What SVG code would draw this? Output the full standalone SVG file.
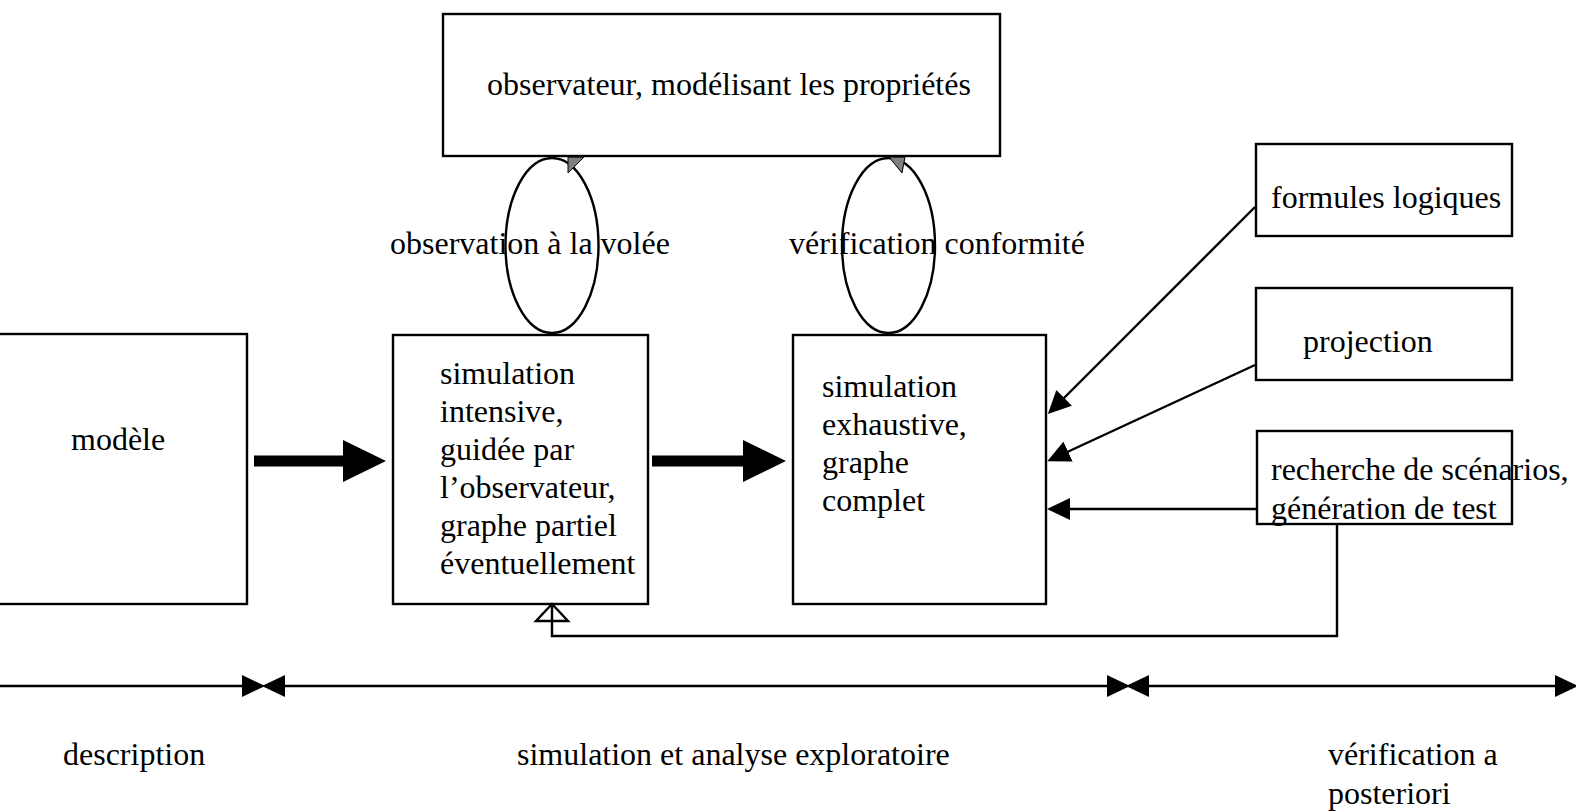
<svg xmlns="http://www.w3.org/2000/svg" width="1576" height="812" viewBox="0 0 1576 812">
  <style>
    .box { fill: #ffffff; stroke: #000000; stroke-width: 2.4; }
    .loop { fill: none; stroke: #000000; stroke-width: 2.4; }
    .tip { fill: #808080; stroke: #000000; stroke-width: 1; }
    .wire { fill: none; stroke: #000000; stroke-width: 2.4; }
    .bold { fill: #000000; stroke: none; }
    text { font-family: "Liberation Serif", "Times New Roman", serif; font-size: 32px; fill: #000000; }
  </style>
  <defs>
    <marker id="head" viewBox="0 0 23 22" refX="20" refY="11" markerWidth="23" markerHeight="22" markerUnits="userSpaceOnUse" orient="auto-start-reverse">
      <path d="M0,0 L23,11 L0,22 Z" fill="#000000"/>
    </marker>
  </defs>
  <rect width="1576" height="812" fill="#ffffff"/>

  <!-- loops between the simulation boxes and the observer -->
  <g id="loops">
    <ellipse class="loop" cx="552" cy="245.5" rx="46.5" ry="87.5"/>
    <polygon class="tip" points="568,157 584,157 568,173"/>
    <ellipse class="loop" cx="888.5" cy="245.5" rx="46.5" ry="87.5"/>
    <polygon class="tip" points="889,157 905,157 902,173"/>
    <text x="390" y="254">observation à la volée</text>
    <text x="789" y="254">vérification conformité</text>
  </g>

  <g id="n-observer">
    <rect class="box" x="443" y="14" width="557" height="142"/>
    <text x="487" y="95">observateur, modélisant les propriétés</text>
  </g>

  <g id="n-model">
    <rect class="box" x="-10" y="334" width="257" height="270"/>
    <text x="71" y="450">modèle</text>
  </g>

  <g id="n-sim-intensive">
    <rect class="box" x="393" y="335" width="255" height="269"/>
    <text x="440" y="384">simulation</text>
    <text x="440" y="422">intensive,</text>
    <text x="440" y="460">guidée par</text>
    <text x="440" y="498">l’observateur,</text>
    <text x="440" y="536">graphe partiel</text>
    <text x="440" y="574">éventuellement</text>
  </g>

  <g id="n-sim-exhaustive">
    <rect class="box" x="793" y="335" width="253" height="269"/>
    <text x="822" y="397">simulation</text>
    <text x="822" y="435">exhaustive,</text>
    <text x="822" y="473">graphe</text>
    <text x="822" y="511">complet</text>
  </g>

  <g id="n-formulas">
    <rect class="box" x="1256" y="144" width="256" height="92"/>
    <text x="1271" y="208">formules logiques</text>
  </g>

  <g id="n-projection">
    <rect class="box" x="1256" y="288" width="256" height="92"/>
    <text x="1303" y="352">projection</text>
  </g>

  <g id="n-scenarios">
    <rect class="box" x="1257" y="431" width="255" height="93"/>
    <text x="1271" y="480">recherche de scénarios,</text>
    <text x="1271" y="519">génération de test</text>
  </g>

  <g id="connectors">
    <!-- block arrows along the main flow -->
    <polygon class="bold" points="254,455.5 343,455.5 343,440 386,461 343,482 343,466.5 254,466.5"/>
    <polygon class="bold" points="652,455.5 743,455.5 743,440 786,461 743,482 743,466.5 652,466.5"/>
    <!-- inputs to the exhaustive simulation -->
    <line class="wire" x1="1255" y1="207" x2="1050" y2="412" marker-end="url(#head)"/>
    <line class="wire" x1="1255" y1="365" x2="1050" y2="460" marker-end="url(#head)"/>
    <line class="wire" x1="1257" y1="509" x2="1050" y2="509" marker-end="url(#head)"/>
    <!-- scenario feedback to the intensive simulation -->
    <polyline class="wire" points="1337,524 1337,636 552,636 552,605"/>
    <polygon class="wire" points="552,604 536,621 568,621"/>
    <!-- phase timeline -->
    <line class="wire" x1="0" y1="686" x2="262" y2="686" marker-end="url(#head)"/>
    <line class="wire" x1="265" y1="686" x2="1127" y2="686" marker-start="url(#head)" marker-end="url(#head)"/>
    <line class="wire" x1="1129" y1="686" x2="1575" y2="686" marker-start="url(#head)" marker-end="url(#head)"/>
  </g>

  <g id="phases">
    <text x="63" y="765">description</text>
    <text x="517" y="765">simulation et analyse exploratoire</text>
    <text x="1328" y="765">vérification a</text>
    <text x="1328" y="804">posteriori</text>
  </g>
</svg>
